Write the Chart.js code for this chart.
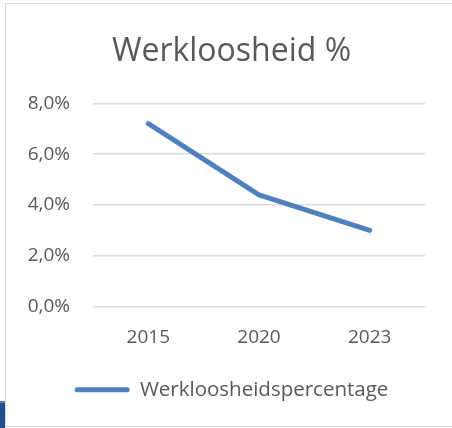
<!DOCTYPE html>
<html>
<head>
<meta charset="utf-8">
<script src="https://cdn.jsdelivr.net/npm/chart.js@4/dist/chart.umd.min.js"></script>
<style>
  html, body { margin: 0; padding: 0; background: #fff; }
  #wrap { position: relative; width: 452px; height: 428px; overflow: hidden; }
  #frame { position: absolute; left: 5px; top: 3px; width: 460px; height: 422px; border: 1.5px solid #d9d9d9; }
  #tab { position: absolute; left: 0; top: 401px; width: 5px; height: 27px; background: #1f4e8c; border-top: 2px solid #5b7fb5; }
  canvas { position: absolute; left: 0; top: 0; }
</style>
</head>
<body>
<div id="wrap">
  <div id="frame"></div>
  <div id="tab"></div>
  <canvas id="chart" width="452" height="428"></canvas>
</div>
<script>
// Werkloosheid % (lijn)
const years = ["2015", "2020", "2023"];
const werkloosheid = [7.2, 4.4, 3.0];
const yTicks = [0, 2, 4, 6, 8];

const textColor = "#595959";
const fontFamily = "'Open Sans', sans-serif";

const ctx = document.getElementById("chart").getContext("2d");
const chart = new Chart(ctx, {
  type: "line",
  data: {
    labels: years,
    datasets: [
      {
        label: "Werkloosheidspercentage",
        data: werkloosheid,
        borderColor: "#4F81BD",
        backgroundColor: "#4F81BD",
        borderWidth: 5,
        borderCapStyle: "round",
        borderJoinStyle: "round",
        pointRadius: 0,
        tension: 0,
        yAxisID: "y",
      },
    ],
  },
  options: {
    responsive: false,
    animation: false,
    layout: { padding: { left: 20, right: 9, top: 0, bottom: 18 } },
    scales: {
      x: {
        offset: true,
        grid: { display: false, drawTicks: false },
        border: { display: false },
        ticks: { color: textColor, font: { family: fontFamily, size: 19 }, padding: 20 },
        afterFit: (s) => { s.height = 63; },
      },
      y: {
        min: 0,
        max: 8,
        afterBuildTicks: (s) => { s.ticks = yTicks.map((v) => ({ value: v })); },
        grid: { color: "#d9d9d9", lineWidth: 1.5, drawTicks: false },
        border: { display: false },
        ticks: {
          color: textColor,
          font: { family: fontFamily, size: 19 },
          padding: 23,
          callback: (v) => v.toFixed(1).replace(".", ",") + "%",
        },
        afterFit: (s) => { s.width = 73; },
      },
      // lege ruimte rechts zodat titel en legenda gecentreerd staan
      y2: {
        position: "right",
        grid: { display: false, drawTicks: false },
        border: { display: false },
        ticks: { display: false },
        afterFit: (s) => { s.width = 18; },
      },
    },
    plugins: {
      title: {
        display: true,
        text: "Werkloosheid %",
        color: textColor,
        font: { family: fontFamily, size: 32, weight: "normal" },
        padding: { top: 33, bottom: 32 },
      },
      legend: {
        position: "bottom",
        labels: {
          color: textColor,
          font: { family: fontFamily, size: 20.5 },
          boxWidth: 55,
          boxHeight: 5,
          padding: 10,
          useBorderRadius: true,
          borderRadius: 2.5,
          generateLabels: (c) =>
            Chart.defaults.plugins.legend.labels
              .generateLabels(c)
              .map((l) => ({ ...l, lineWidth: 0 })),
        },
      },
      tooltip: { enabled: false },
    },
  },
});
</script>
</body>
</html>
